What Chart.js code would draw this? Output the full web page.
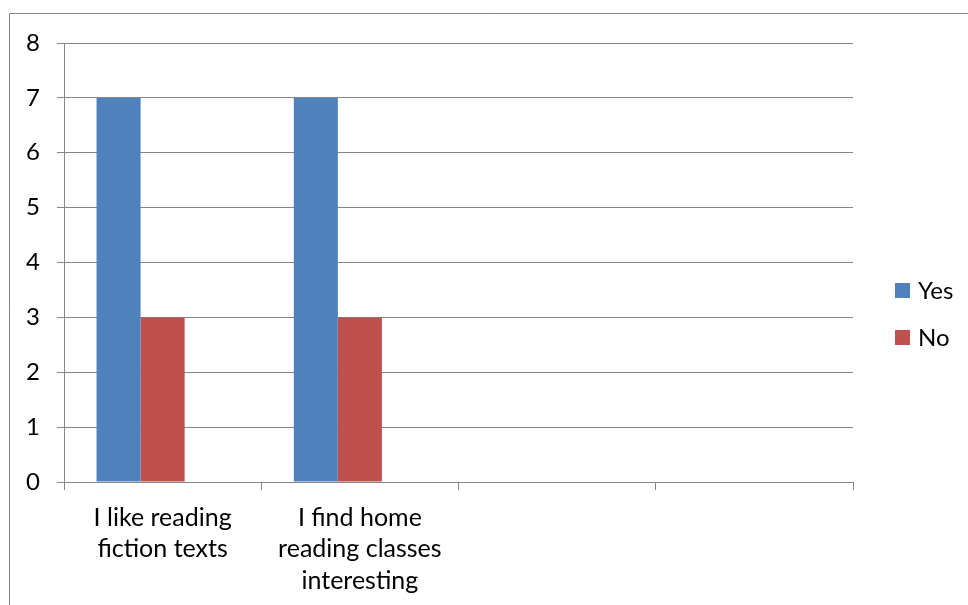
<!DOCTYPE html>
<html>
<head>
<meta charset="utf-8">
<title>Reading survey</title>
<script src="https://cdn.jsdelivr.net/npm/chart.js@4/dist/chart.umd.min.js"></script>
<style>
  html, body { margin: 0; padding: 0; background: #ffffff; }
  #wrap { width: 968px; height: 605px; }
</style>
</head>
<body>
<div id="wrap"><canvas id="chart" width="968" height="605"></canvas></div>
<script>
// Survey answers per statement
const categories = [
  ["I like reading", "fiction texts"],
  ["I find home", "reading classes", "interesting"],
  "",
  ""
];
const yesValues = [7, 7, null, null];
const noValues = [3, 3, null, null];
const thirdValues = [null, null, null, null]; // empty third series keeps the bar slots
const yTicks = [0, 1, 2, 3, 4, 5, 6, 7, 8];

const FONT = "Lato, 'Open Sans', sans-serif";
const GRID = "#868686";

// Outer frame of the chart object
const framePlugin = {
  id: 'frame',
  beforeDraw(chart) {
    const ctx = chart.ctx;
    ctx.save();
    ctx.fillStyle = '#ffffff';
    ctx.fillRect(0, 0, chart.width, chart.height);
    ctx.strokeStyle = GRID;
    ctx.lineWidth = 1;
    ctx.beginPath();
    ctx.moveTo(9.5, chart.height + 2);
    ctx.lineTo(9.5, 13.5);
    ctx.lineTo(chart.width + 2, 13.5);
    ctx.stroke();
    ctx.restore();
  }
};

// Legend on the right, one square per named series
const sideLegend = {
  id: 'sideLegend',
  afterDraw(chart) {
    const ctx = chart.ctx;
    const items = chart.data.datasets.filter(d => d.label);
    const x = 895, box = 15, gap = 47;
    const yStart = 283;
    ctx.save();
    ctx.font = "24px " + FONT;
    ctx.textBaseline = 'middle';
    items.forEach((d, i) => {
      const y = yStart + i * gap;
      ctx.fillStyle = d.backgroundColor;
      ctx.fillRect(x, y, box, box);
      ctx.fillStyle = '#000000';
      ctx.fillText(d.label, x + 23, y + box / 2 + 1);
    });
    ctx.restore();
  }
};

new Chart(document.getElementById('chart'), {
  type: 'bar',
  data: {
    labels: categories,
    datasets: [
      { label: 'Yes', data: yesValues, backgroundColor: '#4F81BD', borderWidth: 0 },
      { label: 'No', data: noValues, backgroundColor: '#C0504D', borderWidth: 0 },
      { label: '', data: thirdValues, backgroundColor: '#9BBB59', borderWidth: 0 }
    ]
  },
  options: {
    responsive: false,
    animation: false,
    devicePixelRatio: 1,
    categoryPercentage: 0.67,
    barPercentage: 1.0,
    layout: { padding: { top: 43, right: 115, left: 0, bottom: 0 } },
    plugins: {
      legend: { display: false },
      tooltip: { enabled: false }
    },
    scales: {
      x: {
        offset: true,
        grid: {
          offset: true,
          drawOnChartArea: false,
          drawTicks: true,
          tickLength: 8,
          color: GRID,
          lineWidth: 1
        },
        border: { color: GRID, width: 1 },
        ticks: {
          color: '#000000',
          font: { family: FONT, size: 25, lineHeight: 1.26 },
          padding: 12,
          maxRotation: 0,
          autoSkip: false
        },
        afterFit(scale) { scale.height = 123; }
      },
      y: {
        min: 0,
        max: 8,
        afterBuildTicks(scale) { scale.ticks = yTicks.map(v => ({ value: v })); },
        grid: {
          color: GRID,
          lineWidth: 1,
          tickLength: 7,
          drawTicks: true
        },
        border: { color: GRID, width: 1 },
        ticks: {
          color: '#000000',
          font: { family: FONT, size: 24 },
          padding: 17
        },
        afterFit(scale) { scale.width = 64; }
      }
    }
  },
  plugins: [framePlugin, sideLegend]
});
</script>
</body>
</html>
